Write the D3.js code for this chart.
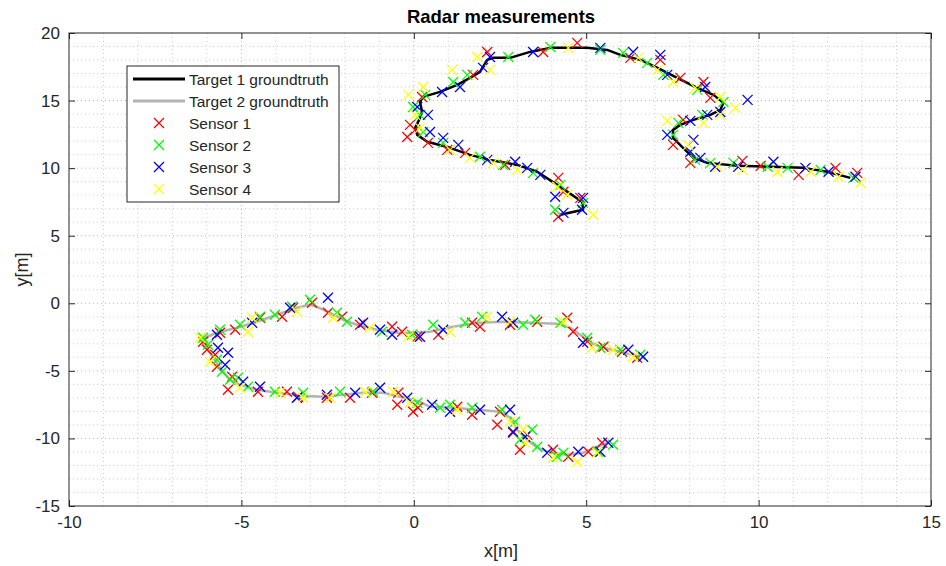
<!DOCTYPE html>
<html>
<head>
<meta charset="utf-8">
<script src="https://d3js.org/d3.v7.min.js"></script>
<style>
  body { margin: 0; background: #fff; }
  svg { font-family: "Liberation Sans", Arial, Helvetica, sans-serif; }
  .axis path { display: none; }
  .axis line { stroke: #262626; }
  .axis text { fill: #262626; font-size: 17px; }
</style>
</head>
<body>
<div id="chart"></div>
<script>
// chart size and margins
var svgWidth = 946
var svgHeight = 566

var margin = {
    top: 33,
    right: 15,
    bottom: 60,
    left: 69
};

var width = svgWidth - margin.left - margin.right
var height = svgHeight - margin.top - margin.bottom

// ground truth tracks [x, y] in metres
var target1Truth = [
    [4.25, 6.55], [4.91, 6.92], [4.88, 7.51], [4.16, 8.76], [3.58, 9.73], [3.00, 10.24],
    [2.21, 10.61], [1.63, 10.98], [0.97, 11.57], [0.39, 11.95], [0.10, 12.46], [0.04, 12.98],
    [0.18, 13.72], [0.24, 14.16], [0.18, 14.90], [0.27, 15.27], [0.76, 15.64], [1.26, 16.16],
    [1.63, 16.68], [1.92, 17.12], [2.13, 18.01], [2.30, 18.16], [2.79, 18.16], [3.37, 18.60],
    [3.96, 18.90], [4.54, 18.90], [5.03, 18.90], [5.61, 18.75], [5.99, 18.38], [6.57, 18.01],
    [7.07, 17.42], [7.64, 16.68], [8.22, 15.94], [8.69, 15.42], [8.98, 14.83], [8.89, 14.31],
    [8.60, 13.94], [8.11, 13.57], [7.73, 13.20], [7.52, 12.83], [7.52, 12.24], [7.81, 11.50],
    [8.11, 10.76], [8.51, 10.39], [9.38, 10.17], [10.34, 10.10], [11.30, 10.02], [11.99, 9.73],
    [12.66, 9.28]
];

var target2Truth = [
    [6.57, -3.95], [5.99, -3.59], [5.50, -3.29], [5.12, -2.92], [4.83, -2.33], [4.54, -1.81],
    [4.16, -1.52], [3.38, -1.44], [2.59, -1.37], [1.84, -1.44], [1.14, -1.74], [0.47, -2.11],
    [-0.11, -2.18], [-0.48, -2.18], [-1.07, -1.96], [-1.65, -1.59], [-2.05, -1.22], [-2.43, -0.70],
    [-2.81, -0.26], [-3.01, -0.11], [-3.39, -0.33], [-3.97, -0.85], [-4.55, -1.37], [-5.13, -1.81],
    [-5.71, -2.18], [-6.20, -2.70], [-6.00, -3.29], [-5.82, -4.03], [-5.62, -4.77], [-5.33, -5.66],
    [-5.04, -6.03], [-4.55, -6.40], [-3.97, -6.62], [-3.30, -6.84], [-2.63, -6.92], [-2.05, -6.77],
    [-1.47, -6.62], [-0.89, -6.62], [-0.40, -6.92], [0.18, -7.29], [0.47, -7.66], [1.14, -7.73],
    [1.84, -7.88], [2.51, -8.03], [2.79, -8.47], [3.00, -9.36], [3.29, -10.10], [3.58, -10.69],
    [3.96, -11.06], [4.45, -11.21], [4.91, -11.06], [5.32, -10.61], [5.61, -10.32]
];

// radar measurements per sensor [x, y]
var sensor1 = [
    [2.13, 18.60], [4.74, 19.27], [3.75, 18.60], [0.24, 15.27], [-0.11, 13.20], [-0.19, 12.31],
    [0.41, 11.87], [0.97, 11.35], [1.49, 11.13], [2.65, 10.24], [4.19, 9.28], [4.34, 8.25],
    [4.83, 7.80], [4.19, 6.40], [1.72, 16.90], [6.28, 18.16], [0.04, 12.83],
    [7.15, 18.01], [7.73, 16.68], [8.40, 16.38], [8.60, 15.20], [7.81, 13.57], [7.52, 11.72],
    [8.02, 10.39], [9.53, 10.54], [10.06, 10.17], [11.16, 9.50], [12.23, 10.02], [12.86, 9.65],
    [-5.62, -2.18], [-5.18, -1.96], [-4.46, -1.07], [-3.82, -1.00], [-3.50, -0.33], [-2.95, 0.04],
    [-2.49, -0.70], [-2.08, -1.00], [-1.56, -1.59], [-0.63, -1.74], [-0.34, -2.11], [0.10, -2.48],
    [-6.00, -3.44], [-5.76, -3.81], [-5.71, -4.70], [-5.27, -5.44], [-5.39, -6.40], [-4.52, -6.55],
    [-3.68, -6.55], [-3.36, -6.92], [-2.52, -6.99], [-1.85, -6.99], [-1.21, -6.62], [-0.45, -6.62],
    [-0.48, -7.51], [0.12, -7.73], [-6.11, -2.85],
    [0.71, -2.33], [1.69, -1.44], [1.92, -1.74], [2.79, -1.59], [3.58, -1.37], [4.45, -1.07],
    [4.62, -2.11], [5.03, -2.85], [5.50, -3.22], [6.04, -3.59], [6.48, -4.03],
    [-0.02, -8.03], [1.26, -7.66], [1.69, -8.25], [2.50, -8.03], [2.42, -8.99], [2.88, -9.58],
    [3.08, -10.84], [3.29, -9.73], [4.04, -10.84], [4.48, -11.35], [5.06, -10.98], [5.46, -10.32]
];

var sensor2 = [
    [3.96, 18.97], [2.74, 18.23], [1.55, 16.90], [1.14, 16.38], [-0.02, 14.53], [0.18, 13.94],
    [0.27, 12.68], [0.85, 11.87], [1.92, 10.84], [2.59, 10.24], [3.46, 9.65], [4.25, 8.76],
    [4.91, 7.43], [4.10, 6.92], [5.41, 18.75], [0.33, 15.42],
    [6.07, 18.53], [6.77, 17.79], [7.24, 16.90], [8.22, 15.79], [8.98, 14.90], [7.67, 13.35],
    [7.52, 12.46], [8.16, 10.61], [8.60, 10.39], [9.27, 10.39], [10.26, 10.10], [10.84, 10.02],
    [11.80, 9.87], [12.75, 9.28], [8.37, 13.94],
    [-6.11, -2.55], [-5.62, -1.96], [-5.04, -1.59], [-4.46, -1.00], [-4.03, -0.85], [-3.53, -0.26],
    [-3.01, 0.26], [-2.23, -0.70], [-1.94, -1.37], [-0.92, -2.11], [-0.05, -2.33],
    [-5.97, -3.07], [-5.71, -4.18], [-5.56, -5.07], [-5.33, -5.66], [-5.10, -5.51], [-4.81, -6.18],
    [-4.03, -6.55], [-3.21, -6.62], [-2.14, -6.55], [-1.18, -6.55], [0.10, -7.36],
    [0.56, -1.59], [1.49, -1.44], [1.98, -1.00], [3.17, -1.59], [3.52, -1.22], [4.25, -1.44],
    [5.03, -2.55], [5.41, -3.29], [5.99, -3.44], [6.57, -3.81],
    [0.76, -7.73], [1.05, -7.51], [1.69, -7.73], [2.56, -7.88], [2.94, -8.77], [3.43, -9.36],
    [3.08, -10.10], [3.58, -10.61], [4.34, -11.06], [4.16, -11.35], [5.35, -10.98], [5.78, -10.47]
];

var sensor3 = [
    [2.21, 18.23], [3.46, 18.60], [5.41, 18.90], [2.01, 17.42], [0.82, 15.64], [1.34, 16.01],
    [0.10, 14.53], [0.41, 13.94], [0.47, 12.68], [0.85, 12.24], [1.29, 11.72], [2.13, 10.61],
    [2.94, 10.47], [3.29, 10.02], [3.67, 9.50], [4.10, 7.88], [4.91, 7.80], [4.88, 6.92],
    [4.34, 6.69],
    [6.36, 18.60], [7.15, 18.38], [7.35, 16.90], [8.45, 16.01], [9.68, 15.05], [8.02, 13.50],
    [8.51, 13.94], [7.35, 12.46], [8.11, 12.09], [8.02, 11.21], [8.31, 10.76], [8.74, 10.10],
    [10.43, 10.47], [11.36, 10.02], [12.03, 9.73], [12.81, 9.36], [9.41, 10.10], [8.89, 14.16],
    [-5.71, -2.33], [-4.69, -1.44], [-3.59, -0.33], [-2.49, 0.41], [-1.47, -1.44], [-0.98, -1.96],
    [-0.63, -2.33], [-5.68, -3.29], [-5.39, -3.66], [-5.47, -4.55], [-4.95, -5.81], [-4.46, -6.18],
    [-3.39, -6.99], [-2.52, -6.77], [-1.70, -6.62], [-0.98, -6.25], [-0.19, -6.99],
    [0.85, -1.96], [0.18, -2.48], [2.56, -1.00], [2.88, -1.44], [4.91, -2.92], [6.22, -3.44],
    [6.65, -3.96], [0.53, -7.51], [1.05, -8.03], [1.92, -7.88], [2.79, -7.88], [2.88, -9.50],
    [3.23, -9.87], [3.87, -11.06], [4.77, -10.98], [5.64, -10.32], [5.41, -10.98]
];

var sensor4 = [
    [1.84, 18.23], [1.11, 17.27], [0.27, 16.01], [-0.16, 15.42], [0.04, 13.94], [0.18, 12.98],
    [1.05, 11.35], [1.63, 10.76], [2.30, 10.39], [3.00, 9.87], [4.16, 8.62], [5.20, 6.55],
    [4.48, 18.90], [2.21, 17.27], [4.45, 8.03],
    [6.51, 18.16], [7.07, 17.27], [7.52, 16.38], [8.16, 15.94], [8.89, 15.27], [9.32, 14.46],
    [7.35, 13.50], [8.40, 13.35], [7.96, 11.72], [8.89, 13.94], [8.80, 10.10], [9.53, 9.87],
    [10.55, 9.73], [11.51, 9.73], [12.32, 9.36], [12.95, 8.91],
    [-6.20, -2.55], [-4.81, -2.11], [-4.69, -1.07], [-3.39, -0.63], [-2.34, -1.07], [-1.27, -1.81],
    [-0.16, -2.48], [-5.91, -4.33], [-5.04, -6.25], [-3.88, -6.62], [-3.21, -6.99], [-2.43, -6.99],
    [-1.41, -6.55], [-0.60, -6.55],
    [1.05, -2.11], [2.13, -1.00], [2.79, -1.37], [4.34, -1.37], [5.17, -3.29], [5.78, -3.44],
    [6.36, -3.96], [-0.11, -7.36], [1.26, -7.88], [2.79, -8.77], [3.17, -9.36], [3.23, -10.32],
    [4.04, -11.43], [4.74, -11.72], [5.32, -11.06]
];

var xDomain = [-10, 15]
var yDomain = [-15, 20]

var sensorNames = ["Sensor 1", "Sensor 2", "Sensor 3", "Sensor 4"]
var sensorColors = ["#ff0000", "#00ff00", "#0000ff", "#ffff00"]
var sensors = [sensor1, sensor2, sensor3, sensor4]

var svg = d3.select("#chart")
    .append("svg")
    .attr("width", svgWidth)
    .attr("height", svgHeight);

var chartGroup = svg.append("g")
    .attr("transform", `translate(${margin.left}, ${margin.top})`);

var xScale = d3.scaleLinear().domain(xDomain).range([0, width]);
var yScale = d3.scaleLinear().domain(yDomain).range([height, 0]);

// white axes background
chartGroup.append("rect")
    .attr("width", width)
    .attr("height", height)
    .attr("fill", "#fff");

// dotted grid, 1 m minor / 5 m major
var gridGroup = chartGroup.append("g");
gridGroup.selectAll(".vgrid")
    .data(d3.range(xDomain[0] + 1, xDomain[1]))
    .enter()
    .append("line")
    .attr("x1", d => xScale(d))
    .attr("x2", d => xScale(d))
    .attr("y1", 0)
    .attr("y2", height)
    .attr("stroke", d => d % 5 === 0 ? "#b8b8b8" : "#cdcdcd")
    .attr("stroke-width", 1)
    .attr("stroke-dasharray", "1,3");

gridGroup.selectAll(".hgrid")
    .data(d3.range(yDomain[0] + 1, yDomain[1]))
    .enter()
    .append("line")
    .attr("x1", 0)
    .attr("x2", width)
    .attr("y1", d => yScale(d))
    .attr("y2", d => yScale(d))
    .attr("stroke", d => d % 5 === 0 ? "#b8b8b8" : "#cdcdcd")
    .attr("stroke-width", 1)
    .attr("stroke-dasharray", "1,3");

// ground truth lines
var line = d3.line()
    .x(d => xScale(d[0]))
    .y(d => yScale(d[1]));

chartGroup.append("path")
    .datum(target1Truth)
    .attr("d", line)
    .attr("fill", "none")
    .attr("stroke", "#000")
    .attr("stroke-width", 2.5)
    .attr("stroke-linejoin", "round");

chartGroup.append("path")
    .datum(target2Truth)
    .attr("d", line)
    .attr("fill", "none")
    .attr("stroke", "#b3b3b3")
    .attr("stroke-width", 2.5)
    .attr("stroke-linejoin", "round");

// x markers
var cross = "M-5,-5L5,5M-5,5L5,-5";

sensors.forEach(function (data, i) {
    chartGroup.append("g")
        .selectAll("path")
        .data(data)
        .enter()
        .append("path")
        .attr("d", cross)
        .attr("transform", d => `translate(${xScale(d[0])},${yScale(d[1])})`)
        .attr("fill", "none")
        .attr("stroke", sensorColors[i])
        .attr("stroke-width", 1.3);
});

// axes, ticks pointing inward, plain hyphen minus like the original
var fmt = d => String(d);
var bottomAxis = d3.axisBottom(xScale).ticks(5).tickFormat(fmt).tickSizeInner(-6).tickSizeOuter(0).tickPadding(10);
var leftAxis = d3.axisLeft(yScale).ticks(7).tickFormat(fmt).tickSizeInner(-6).tickSizeOuter(0).tickPadding(9);
var topAxis = d3.axisTop(xScale).ticks(5).tickSizeInner(-6).tickSizeOuter(0).tickFormat("");
var rightAxis = d3.axisRight(yScale).ticks(7).tickSizeInner(-6).tickSizeOuter(0).tickFormat("");

chartGroup.append("g").attr("class", "axis")
    .attr("transform", `translate(0, ${height})`)
    .call(bottomAxis);
chartGroup.append("g").attr("class", "axis")
    .call(leftAxis);
chartGroup.append("g").attr("class", "axis")
    .call(topAxis);
chartGroup.append("g").attr("class", "axis")
    .attr("transform", `translate(${width}, 0)`)
    .call(rightAxis);

// box
chartGroup.append("rect")
    .attr("width", width)
    .attr("height", height)
    .attr("fill", "none")
    .attr("stroke", "#262626")
    .attr("stroke-width", 1);

// title and axis labels
svg.append("text")
    .attr("x", margin.left + width / 2 + 1)
    .attr("y", 23)
    .attr("text-anchor", "middle")
    .attr("font-size", 18.5)
    .attr("font-weight", "bold")
    .attr("fill", "#000")
    .text("Radar measurements");

svg.append("text")
    .attr("x", margin.left + width / 2 + 1)
    .attr("y", 557)
    .attr("text-anchor", "middle")
    .attr("font-size", 18)
    .attr("fill", "#262626")
    .text("x[m]");

svg.append("text")
    .attr("transform", `translate(28, ${margin.top + height / 2}) rotate(-90)`)
    .attr("text-anchor", "middle")
    .attr("font-size", 18)
    .attr("fill", "#262626")
    .text("y[m]");

// legend
var legend = svg.append("g")
    .attr("transform", "translate(127, 66)");

legend.append("rect")
    .attr("width", 212)
    .attr("height", 136)
    .attr("fill", "#fff")
    .attr("stroke", "#262626")
    .attr("stroke-width", 1);

var legendItems = [
    { label: "Target 1 groundtruth", type: "line", color: "#000" },
    { label: "Target 2 groundtruth", type: "line", color: "#b3b3b3" }
].concat(sensorNames.map((n, i) => ({ label: n, type: "marker", color: sensorColors[i] })));

legendItems.forEach(function (item, i) {
    var yPos = 13 + i * 22;
    if (item.type === "line") {
        legend.append("line")
            .attr("x1", 6).attr("x2", 58)
            .attr("y1", yPos).attr("y2", yPos)
            .attr("stroke", item.color)
            .attr("stroke-width", 3);
    } else {
        legend.append("path")
            .attr("d", cross)
            .attr("transform", `translate(32, ${yPos})`)
            .attr("fill", "none")
            .attr("stroke", item.color)
            .attr("stroke-width", 1.3);
    }
    legend.append("text")
        .attr("x", 62)
        .attr("y", yPos)
        .attr("dy", "0.36em")
        .attr("font-size", 15.5)
        .attr("fill", "#262626")
        .text(item.label);
});
</script>
</body>
</html>
